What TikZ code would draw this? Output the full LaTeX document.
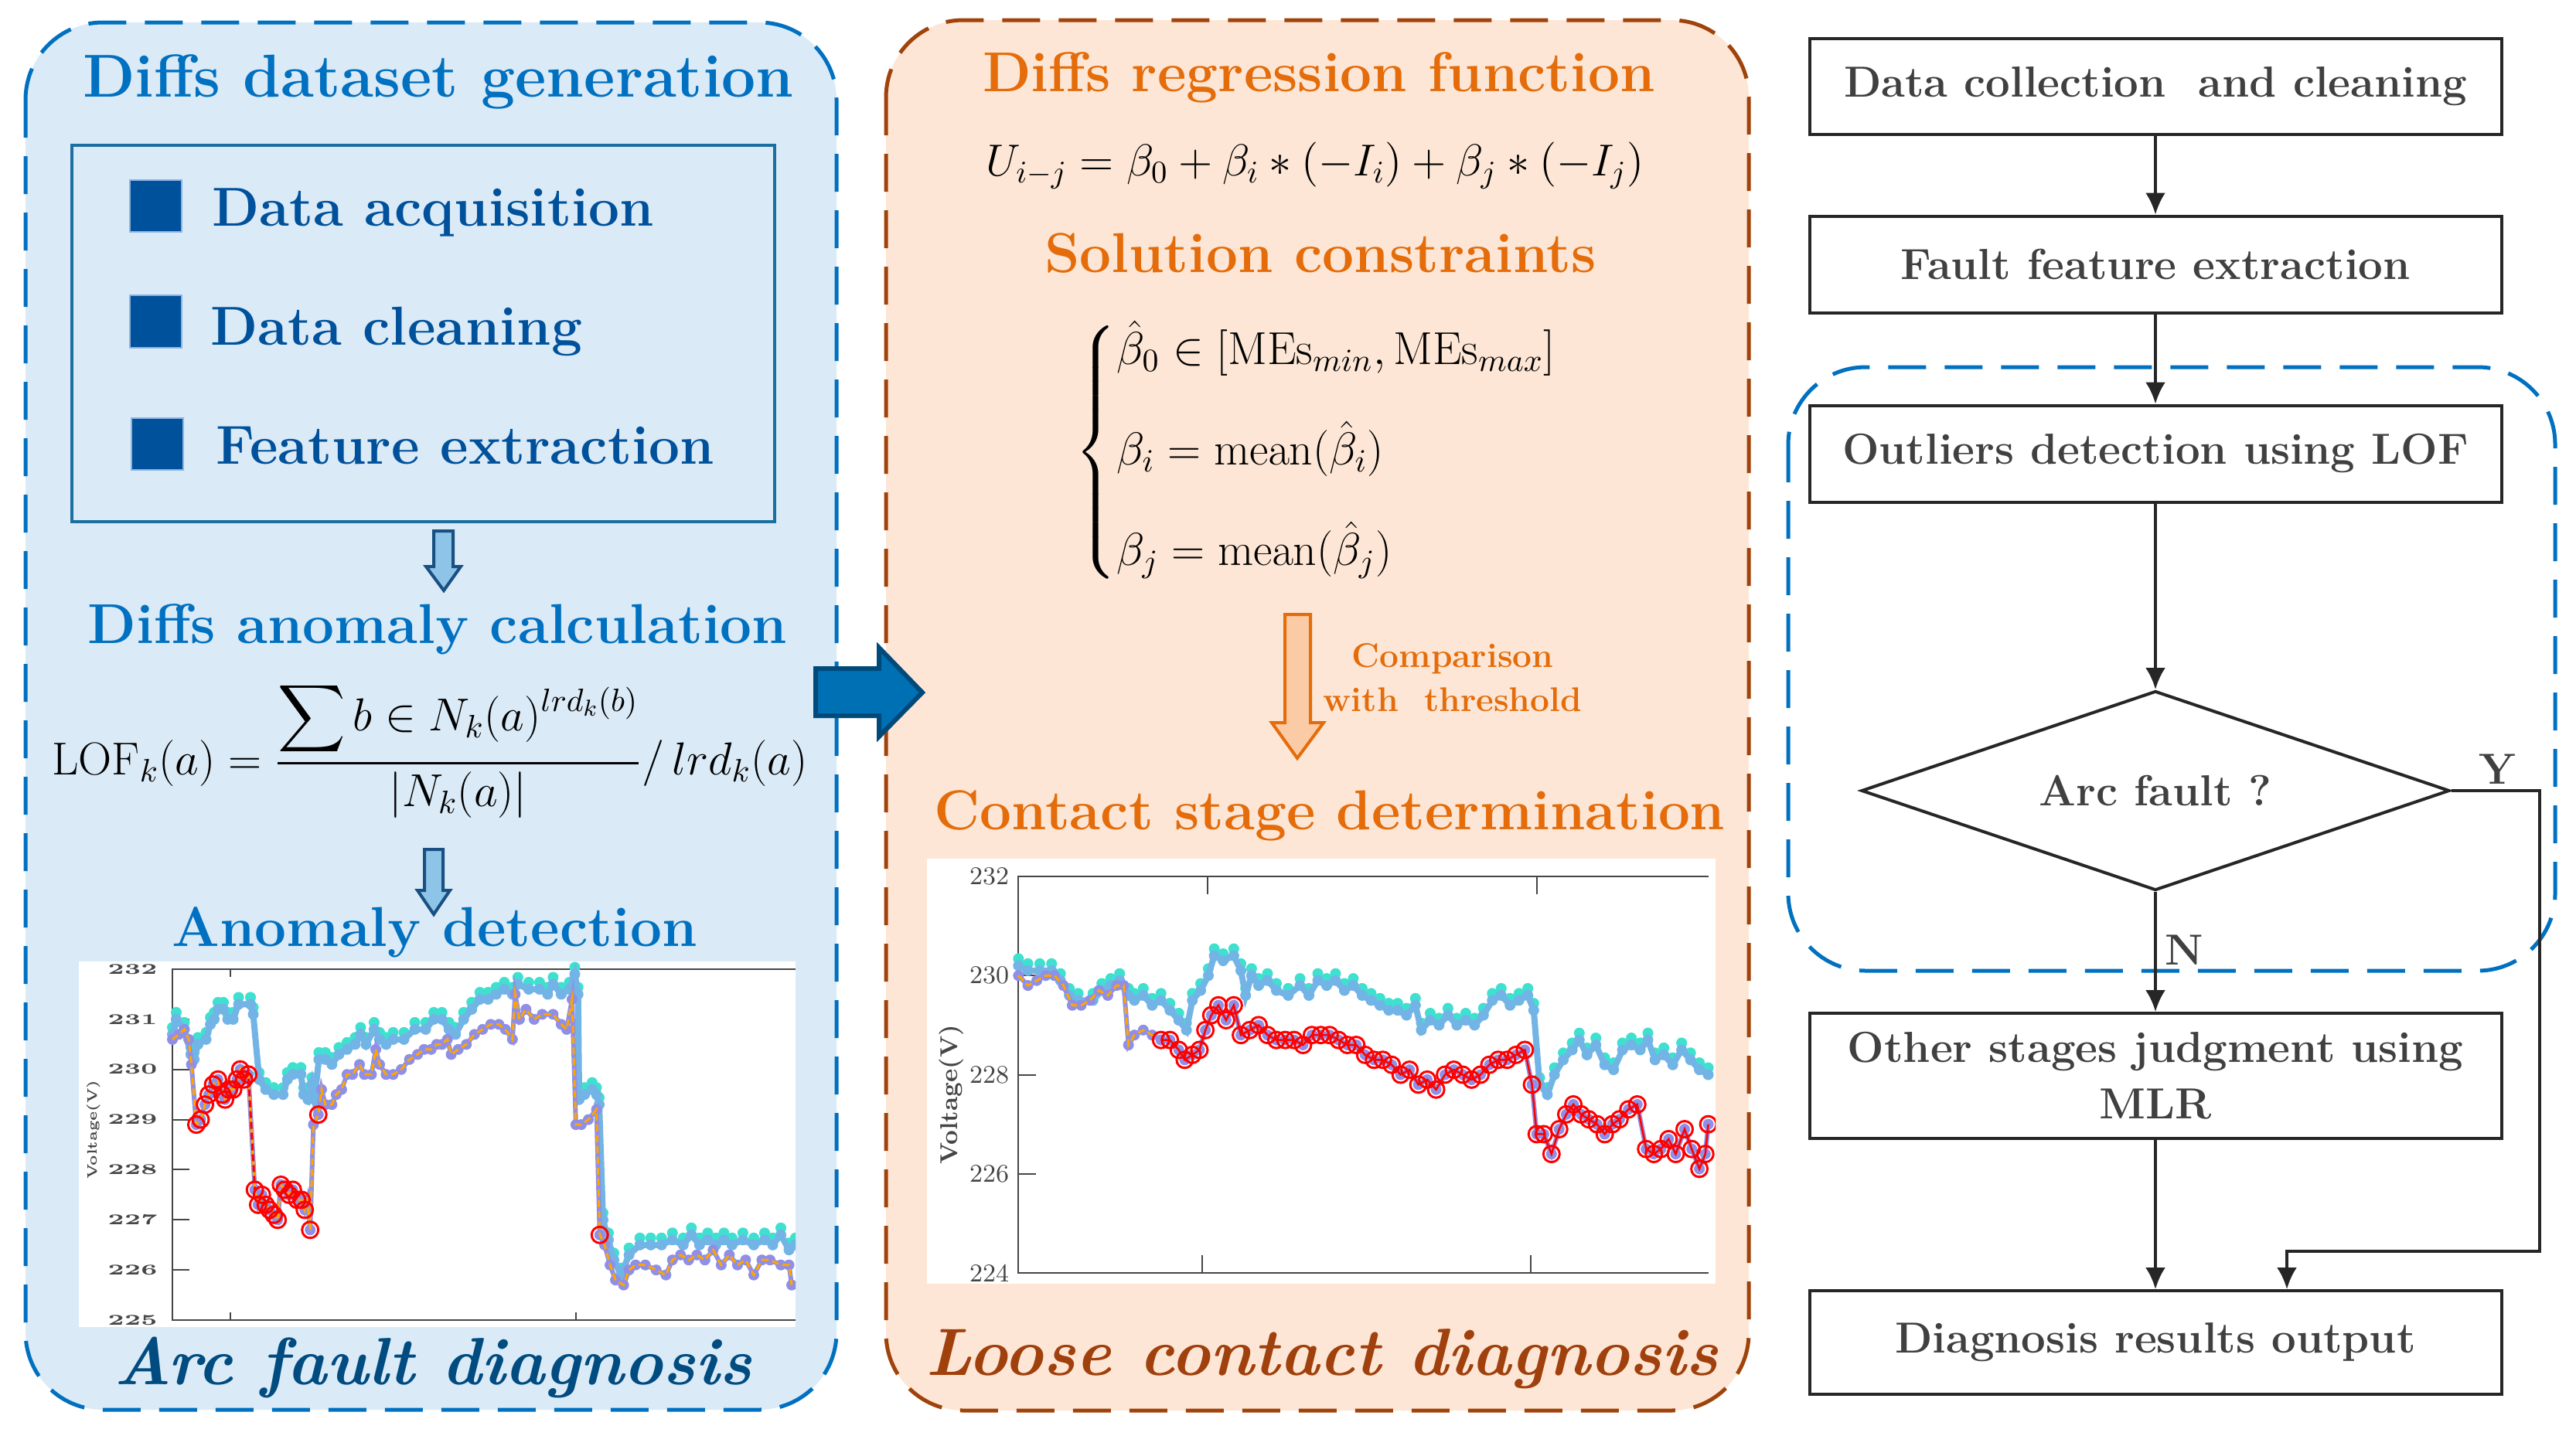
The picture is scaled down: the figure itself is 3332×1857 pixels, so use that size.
\RequirePackage{fix-cm}
\documentclass[tikz,border=0pt]{standalone}
\usepackage{amsmath}
\usetikzlibrary{arrows.meta,shapes.geometric,plotmarks}

\definecolor{panelblue}{RGB}{218,234,247}
\definecolor{lineblue}{RGB}{0,112,192}
\definecolor{itemblue}{RGB}{0,81,155}
\definecolor{itemedge}{RGB}{141,179,226}
\definecolor{frameblue}{RGB}{27,110,160}
\definecolor{arrowblue}{RGB}{142,196,232}
\definecolor{arrowedge}{RGB}{25,80,130}
\definecolor{deepblue}{RGB}{0,75,128}
\definecolor{panelpeach}{RGB}{253,230,213}
\definecolor{linebrown}{RGB}{160,67,11}
\definecolor{headorange}{RGB}{228,108,10}
\definecolor{arroworange}{RGB}{251,203,165}
\definecolor{deepbrown}{RGB}{160,64,12}
\definecolor{bigfill}{RGB}{0,112,180}
\definecolor{bigedge}{RGB}{0,74,122}
\definecolor{flowline}{RGB}{38,38,38}
\definecolor{flowtext}{RGB}{64,64,64}
\definecolor{lightblue}{RGB}{115,180,230}
\definecolor{turq}{RGB}{64,224,208}
\definecolor{lilac}{RGB}{143,143,232}
\definecolor{amber}{RGB}{255,165,0}
\definecolor{axisgray}{RGB}{70,70,70}

\tikzset{
  panel/.style={rounded corners=10mm, line width=0.5mm, dash pattern=on 4.9mm off 2.4mm},
  titletxt/.style={inner sep=0, font=\fontsize{22.3}{26}\selectfont\bfseries},
  headtxt/.style={inner sep=0, font=\fontsize{20.7}{25}\selectfont\bfseries},
  itemtxt/.style={inner sep=0, text=itemblue, font=\fontsize{20.2}{24}\selectfont\bfseries},
  italtxt/.style={inner sep=0, font=\fontsize{24.6}{29}\selectfont\bfseries\itshape},
  cmptxt/.style={inner sep=0, align=center, text=headorange, font=\fontsize{12.6}{16.2}\selectfont\bfseries},
  hollowblue/.style={fill=arrowblue, draw=arrowedge, line width=0.4mm},
  hollowor/.style={fill=arroworange, draw=headorange, line width=0.4mm},
  flowbox/.style={draw=flowline, line width=0.4mm, minimum width=89.5mm, inner sep=0, align=center,
    text=flowtext, font=\fontsize{16}{20.8}\selectfont\bfseries},
  decide/.style={diamond, draw=flowline, line width=0.4mm, aspect=2.95, minimum width=76.1mm,
    minimum height=25.8mm, inner sep=0, text=flowtext, font=\fontsize{16}{19}\selectfont\bfseries},
  flowlbl/.style={inner sep=0, text=flowtext, font=\fontsize{16}{19}\selectfont\bfseries},
  flow/.style={draw=flowline, line width=0.4mm, -{Latex[length=2.8mm,width=2.6mm]}},
  axisline/.style={draw=axisgray, line width=0.2mm},
  lticks/.style={inner sep=0, anchor=east, xscale=1.6, text=axisgray, font=\fontsize{5.5}{6}\selectfont\bfseries},
  rticks/.style={inner sep=0, anchor=east, text=axisgray, font=\fontsize{9.4}{10}\selectfont},
  dots/.style={only marks, mark=*, mark size=0.65mm, line width=0.1mm},
  turqdots/.style={dots, color=turq},
  bluedots/.style={dots, color=lightblue},
  lildots/.style={dots, color=lilac},
  blueline/.style={lightblue, line width=0.8mm},
  lilline/.style={lilac, line width=0.6mm},
  ambertrace/.style={amber, line width=0.3mm, dash pattern=on 0.9mm off 0.5mm},
  redtrace/.style={red, line width=0.25mm},
  redrings/.style={color=red, only marks, mark=o, mark size=1.05mm, line width=0.3mm}
}

% data of the arc fault chart
\newcommand{\arcup}[1]{\draw[#1] plot coordinates {(318,230.7) (325,231.0) (340,230.8) (352,230.3)
 (358,230.2) (365,230.5) (380,230.6) (388,230.9) (395,231.0) (402,231.2) (412,231.2) (420,231.0)
 (430,231.0) (440,231.3) (462,231.3) (467,231.1) (478,229.8) (490,229.6) (505,229.5) (522,229.5)
 (530,229.8) (540,229.9) (555,229.9) (560,229.5) (568,229.4) (575,229.7) (580,229.4) (588,230.2)
 (600,230.2) (612,230.1) (625,230.3) (640,230.4) (655,230.5) (665,230.7) (675,230.5) (690,230.8)
 (700,230.6) (712,230.5) (725,230.6) (745,230.6) (765,230.8) (785,230.8) (800,231.0) (815,231.0)
 (828,230.8) (840,230.7) (855,231.0) (870,231.2) (885,231.4) (900,231.4) (915,231.5) (930,231.6)
 (945,231.5) (955,231.7) (975,231.6) (995,231.6) (1010,231.5) (1020,231.7) (1035,231.5) (1050,231.6)
 (1060,231.9) (1066,231.5) (1068,229.4) (1078,229.5) (1092,229.6) (1100,229.5) (1105,229.3) (1112,227.0)
 (1122,226.6) (1132,226.2) (1145,225.9) (1160,226.3) (1180,226.5) (1200,226.5) (1220,226.5) (1240,226.6)
 (1260,226.5) (1275,226.7) (1290,226.5) (1305,226.6) (1320,226.5) (1335,226.6) (1350,226.5) (1370,226.6)
 (1390,226.5) (1410,226.6) (1425,226.5) (1440,226.7) (1455,226.4) (1467,226.5)};}
\newcommand{\arclow}[1]{\draw[#1] plot coordinates {(318,230.6) (330,230.7) (340,230.8) (348,230.6)
 (353,230.1) (362,228.9) (370,229.0) (378,229.3) (385,229.5) (393,229.7) (402,229.8) (410,229.5)
 (415,229.4) (422,229.6) (430,229.6) (437,229.8) (443,230.0) (450,229.8) (458,229.9) (470,227.6)
 (476,227.3) (483,227.5) (490,227.3) (497,227.2) (505,227.1) (512,227.0) (518,227.7) (525,227.6)
 (533,227.5) (540,227.6) (548,227.4) (556,227.4) (562,227.2) (567,227.4) (572,226.8) (578,228.9)
 (587,229.1) (593,229.6) (600,229.3) (612,229.3) (620,229.5) (630,229.6) (640,229.9) (650,229.9)
 (663,230.1) (672,229.9) (685,229.9) (693,230.4) (700,230.1) (712,229.9) (725,229.9) (740,230.0)
 (755,230.2) (770,230.3) (782,230.4) (795,230.4) (805,230.5) (815,230.5) (825,230.6) (832,230.3)
 (845,230.4) (860,230.5) (875,230.7) (890,230.8) (905,230.9) (920,230.9) (932,230.8) (945,230.6)
 (950,231.5) (958,231.0) (970,231.2) (985,231.0) (1000,231.1) (1020,231.1) (1035,230.9) (1045,230.8)
 (1055,231.4) (1062,228.9) (1072,228.9) (1085,229.0) (1100,229.2) (1106,226.7) (1115,226.5) (1125,226.1)
 (1135,225.8) (1150,225.7) (1160,226.0) (1172,226.1) (1190,226.1) (1210,226.0) (1228,225.9) (1240,226.2)
 (1255,226.3) (1270,226.2) (1285,226.3) (1300,226.2) (1315,226.4) (1330,226.1) (1345,226.3) (1360,226.1)
 (1375,226.2) (1390,225.9) (1405,226.2) (1420,226.2) (1440,226.1) (1455,226.1) (1460,225.7)};}
\newcommand{\arcred}[1]{\draw[#1] plot coordinates {(362,228.9) (370,229.0) (378,229.3) (385,229.5)
 (393,229.7) (402,229.8) (410,229.5) (415,229.4) (422,229.6) (430,229.6) (437,229.8) (443,230.0)
 (450,229.8) (458,229.9) (470,227.6) (476,227.3) (483,227.5) (490,227.3) (497,227.2) (505,227.1)
 (512,227.0) (518,227.7) (525,227.6) (533,227.5) (540,227.6) (548,227.4) (556,227.4) (562,227.2)
 (572,226.8) (587,229.1) (1106,226.7)};}

% data of the loose contact chart
\newcommand{\lcup}[1]{\draw[#1] plot coordinates {(284,230.2) (300,230.1) (320,230.1) (340,230.1)
 (355,229.9) (370,229.6) (385,229.5) (410,229.5) (425,229.7) (440,229.8) (455,229.9) (470,229.6)
 (480,229.5) (495,229.6) (510,229.4) (525,229.5) (540,229.3) (555,229.1) (568,228.9) (578,229.5)
 (592,229.7) (605,230.0) (615,230.4) (630,230.3) (648,230.4) (660,230.1) (668,229.6) (678,230.0)
 (690,229.8) (705,229.9) (720,229.7) (740,229.6) (760,229.8) (775,229.6) (790,229.9) (805,229.8)
 (820,229.9) (835,229.7) (850,229.8) (865,229.6) (880,229.5) (895,229.4) (910,229.3) (925,229.3)
 (940,229.2) (955,229.4) (965,228.9) (980,229.1) (995,229.0) (1010,229.2) (1025,229.0) (1040,229.1)
 (1055,229.0) (1070,229.2) (1085,229.5) (1100,229.6) (1115,229.4) (1130,229.5) (1145,229.6) (1155,229.3)
 (1165,227.8) (1178,227.6) (1190,228.0) (1205,228.3) (1220,228.5) (1232,228.7) (1245,228.4) (1260,228.6)
 (1275,228.2) (1290,228.1) (1305,228.5) (1320,228.6) (1335,228.5) (1348,228.7) (1360,228.3) (1375,228.4)
 (1390,228.2) (1405,228.5) (1420,228.3) (1435,228.1) (1450,228.0)};}
\newcommand{\lclow}[1]{\draw[#1] plot coordinates {(284,230.0) (300,229.8) (315,229.9) (330,230.0)
 (345,230.0) (360,229.8) (375,229.4) (390,229.4) (405,229.5) (420,229.7) (435,229.6) (450,229.8)
 (462,229.8) (470,228.6) (480,228.8) (495,228.9) (510,228.8) (525,228.7)};}
\newcommand{\lcred}[1]{\draw[#1] plot coordinates {(525,228.7) (540,228.7) (555,228.5) (565,228.3)
 (578,228.4) (590,228.5) (600,228.9) (610,229.2) (622,229.4) (635,229.1) (648,229.4) (660,228.8)
 (675,228.9) (690,229.0) (705,228.8) (720,228.7) (735,228.7) (750,228.7) (765,228.6) (780,228.8)
 (795,228.8) (810,228.8) (825,228.7) (840,228.6) (855,228.6) (870,228.4) (885,228.3) (900,228.3)
 (915,228.2) (930,228.0) (945,228.1) (960,227.8) (975,227.9) (990,227.7) (1005,228.0) (1020,228.1)
 (1035,228.0) (1050,227.9) (1065,228.0) (1080,228.2) (1095,228.3) (1110,228.3) (1125,228.4) (1140,228.5)
 (1152,227.8) (1160,226.8) (1172,226.8) (1185,226.4) (1198,226.9) (1210,227.2) (1222,227.4) (1235,227.2)
 (1248,227.1) (1262,227.0) (1275,226.8) (1288,227.0) (1300,227.1) (1315,227.3) (1330,227.4) (1345,226.5)
 (1358,226.4) (1370,226.5) (1383,226.7) (1395,226.4) (1410,226.9) (1422,226.5) (1435,226.1) (1445,226.4)
 (1450,227.0)};}

\begin{document}
\begin{tikzpicture}[x=0.1mm, y=-0.1mm]
\useasboundingbox (0,0) rectangle (3332,1857);

% the two dashed panels
\draw[panel, draw=lineblue, fill=panelblue] (33,29) rectangle (1082,1824);
\draw[panel, draw=linebrown, fill=panelpeach] (1146,26) rectangle (2262,1825);

% arc fault panel
\node[titletxt, text=lineblue, anchor=base] (dgen) at (567,125) {Diffs dataset generation};
\draw[draw=frameblue, line width=0.4mm] (93,188) rectangle (1002,675);
\filldraw[fill=itemblue, draw=itemedge, line width=0.2mm] (168,233) rectangle (235,300);
\filldraw[fill=itemblue, draw=itemedge, line width=0.2mm] (168,382) rectangle (235,450);
\filldraw[fill=itemblue, draw=itemedge, line width=0.2mm] (170,541) rectangle (237,608);
\node[itemtxt, anchor=base west] (acq) at (274,292) {Data acquisition};
\node[itemtxt, anchor=base west] (clean) at (272,446) {Data cleaning};
\node[itemtxt, anchor=base west] (fextr) at (279,600) {Feature extraction};
\draw[hollowblue] (561,687) -- (586,687) -- (586,733) -- (596,733) -- (574,764) -- (551,733) -- (561,733) -- cycle;
\node[headtxt, text=lineblue, anchor=base] (anom) at (566,832) {Diffs anomaly calculation};
\node[inner sep=0, font=\fontsize{17}{20}\selectfont] (lofeq) at (556,970)
  {$\mathrm{LOF}_k(a)=\dfrac{\displaystyle\sum b\in N_k(a)^{lrd_k(b)}}{\left|N_k(a)\right|}/\,lrd_k(a)$};
\draw[hollowblue] (549,1099) -- (573,1099) -- (573,1152) -- (582,1152) -- (561,1183) -- (540,1152) -- (549,1152) -- cycle;
\node[headtxt, text=lineblue, anchor=base] (adet) at (562,1224) {Anomaly detection};

% arc fault chart
\fill[white] (102,1244) rectangle (1029,1717);
\begin{scope}
\clip (102,1244) rectangle (1029,1717);
\begin{scope}[shift={(0,1708)}, x=0.07015mm, y=6.486mm, yshift=-1459.35mm]
\draw[axisline] (1467,232) -- (318,232) -- (318,225) -- (1467,225);
\draw[axisline] (318,231) -- (349,231);
\draw[axisline] (318,230) -- (349,230);
\draw[axisline] (318,229) -- (349,229);
\draw[axisline] (318,228) -- (349,228);
\draw[axisline] (318,227) -- (349,227);
\draw[axisline] (318,226) -- (349,226);
\draw[axisline] (425,232) -- (425,231.85);
\draw[axisline] (1062,232) -- (1062,231.85);
\draw[axisline] (425,225) -- (425,225.15);
\draw[axisline] (1062,225) -- (1062,225.15);
\node[lticks] (l232) at (292,232) {232};
\node[lticks] (l231) at (292,231) {231};
\node[lticks] (l230) at (292,230) {230};
\node[lticks] (l229) at (292,229) {229};
\node[lticks] (l228) at (292,228) {228};
\node[lticks] (l227) at (292,227) {227};
\node[lticks] (l226) at (292,226) {226};
\node[lticks] (l225) at (292,225) {225};
\node[inner sep=0, rotate=90, text=axisgray, font=\fontsize{5}{6}\selectfont\bfseries] (lvolt) at (172,228.8) {Voltage(V)};
\arcup{turqdots, yshift=0.9mm}
\arcup{blueline}
\arcup{bluedots}
\arclow{lilline}
\arclow{lildots}
\arclow{ambertrace}
\draw[red, line width=0.3mm, dash pattern=on 0.9mm off 0.5mm] (450,229.8) -- (458,229.9) -- (470,227.6);
\arcred{redrings}
\end{scope}
\end{scope}
\node[italtxt, text=deepblue, anchor=base] (arcdiag) at (560,1791) {Arc fault diagnosis};

% loose contact panel
\node[headtxt, text=headorange, anchor=base] (regf) at (1706,118) {Diffs regression function};
\node[inner sep=0, font=\fontsize{16.5}{20}\selectfont] (ueq) at (1701,214)
  {$U_{i-j}=\beta_0+\beta_i*(-I_i)+\beta_j*(-I_j)$};
\node[headtxt, text=headorange, anchor=base] (solc) at (1708,352) {Solution constraints};
\node[inner sep=0, anchor=west, font=\fontsize{17}{20}\selectfont] (cons) at (1390,585)
  {$\begin{cases}\hat{\beta}_0\in[\mathrm{MEs}_{min},\mathrm{MEs}_{max}]\\[13pt]
   \beta_i=\mathrm{mean}(\hat{\beta}_i)\\[13pt]\beta_j=\mathrm{mean}(\hat{\beta}_j)\end{cases}$};
\draw[hollowor] (1662,795) -- (1695,795) -- (1695,935) -- (1712,935) -- (1678,981) -- (1645,935) -- (1662,935) -- cycle;
\node[cmptxt] (cmp) at (1879,877) {Comparison\\with~ threshold};
\node[headtxt, text=headorange, anchor=base] (cstage) at (1720,1073) {Contact stage determination};

% loose contact chart
\fill[white] (1199,1111) rectangle (2219,1661);
\begin{scope}
\clip (1199,1111) rectangle (2219,1661);
\begin{scope}[shift={(1100,1647)}, x=0.07653mm, y=6.4125mm, yshift=-1436.4mm]
\draw[axisline] (1450,232) -- (284,232) -- (284,224) -- (1450,224);
\draw[axisline] (284,230) -- (314,230);
\draw[axisline] (284,228) -- (314,228);
\draw[axisline] (284,226) -- (314,226);
\draw[axisline] (604,232) -- (604,231.64);
\draw[axisline] (1160,232) -- (1160,231.64);
\draw[axisline] (594,224) -- (594,224.36);
\draw[axisline] (1150,224) -- (1150,224.36);
\node[rticks] (r232) at (269,232) {232};
\node[rticks] (r230) at (269,230) {230};
\node[rticks] (r228) at (269,228) {228};
\node[rticks] (r226) at (269,226) {226};
\node[rticks] (r224) at (269,224) {224};
\node[inner sep=0, rotate=90, text=axisgray, font=\fontsize{9}{10}\selectfont\bfseries] (rvolt) at (170,227.6) {Voltage(V)};
\lcup{turqdots, yshift=0.9mm}
\lcup{blueline}
\lcup{bluedots}
\lclow{lilline}
\lclow{lildots}
\lclow{ambertrace}
\lcred{lilline}
\lcred{lildots}
\lcred{redtrace}
\lcred{redrings}
\end{scope}
\end{scope}
\node[italtxt, text=deepbrown, anchor=base] (loose) at (1710,1779) {Loose contact diagnosis};

% arrow between the panels
\draw[fill=bigfill, draw=bigedge, line width=0.6mm] (1055,865) -- (1137,865) -- (1137,838) -- (1193,896) -- (1137,953) -- (1137,926) -- (1055,926) -- cycle;

% flow chart
\draw[panel, draw=lineblue] (2313,475) rectangle (3305,1256);
\node[flowbox, minimum height=12.4mm] (collect) at (2788,112) {Data collection~ and cleaning};
\node[flowbox, minimum height=12.5mm] (feature) at (2788,342) {Fault feature extraction};
\node[flowbox, minimum height=12.5mm] (outlier) at (2788,587) {Outliers detection using LOF};
\node[decide] (arcq) at (2788,1023) {Arc fault ?};
\node[flowbox, minimum height=16.2mm] (judge) at (2788,1392) {Other stages judgment using\\MLR};
\node[flowbox, minimum height=13.4mm] (result) at (2788,1737) {Diagnosis results output};
\coordinate (yright) at (3285,1023);
\coordinate (ybend) at (2958,1619);
\draw[flow] (collect) -- (feature);
\draw[flow] (feature) -- (outlier);
\draw[flow] (outlier) -- (arcq);
\draw[flow] (arcq) -- (judge);
\draw[flow] (judge) -- (result);
\draw[flow] (arcq.east) -- (yright) |- (ybend) -- (ybend |- result.north);
\node[flowlbl] (ylab) at (3230,995) {Y};
\node[flowlbl] (nlab) at (2825,1229) {N};
\end{tikzpicture}
\end{document}
